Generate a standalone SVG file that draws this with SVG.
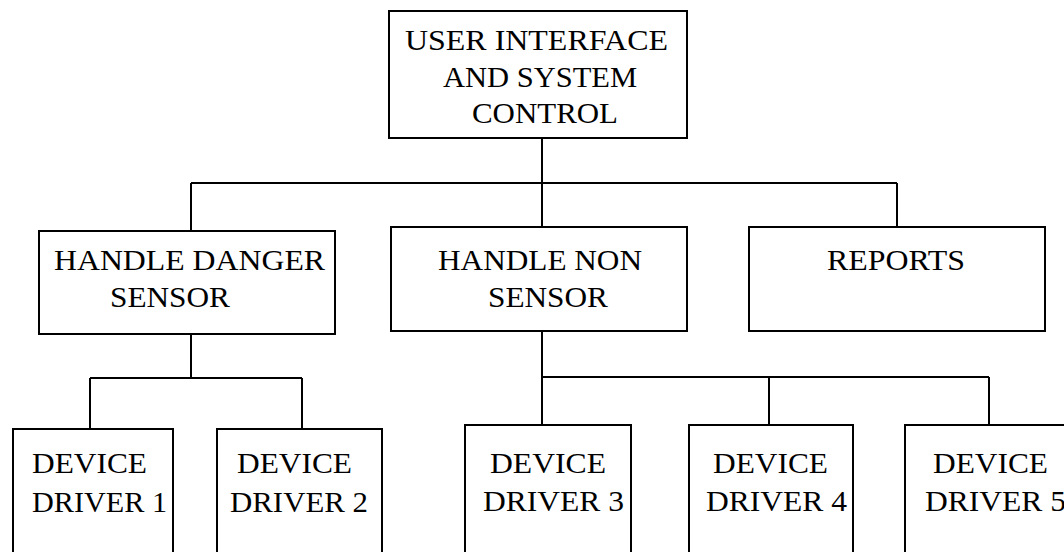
<svg xmlns="http://www.w3.org/2000/svg" width="1064" height="552" viewBox="0 0 1064 552">
  <style>
    .box { fill: #ffffff; stroke: #000000; stroke-width: 2; }
    .wire { fill: none; stroke: #000000; stroke-width: 2; }
    .lbl { font-family: "Liberation Serif", "DejaVu Serif", "Times New Roman", serif; font-size: 30px; fill: #000000; }
  </style>
  <rect width="1064" height="552" fill="#ffffff"/>

  <!-- connectors -->
  <g id="connectors">
    <path class="wire" d="M542 138 V183 M191 183 H897 M191 183 V231 M542 183 V227 M897 183 V227"/>
    <path class="wire" d="M191 334 V378 M90 378 H302 M90 378 V429 M302 378 V429"/>
    <path class="wire" d="M542 331 V425 M542 377 H989 M769 377 V425 M989 377 V425"/>
  </g>

  <g id="user-interface">
    <rect class="box" x="389" y="11" width="298" height="127"/>
    <text class="lbl" x="405" y="50" textLength="263" lengthAdjust="spacingAndGlyphs">USER INTERFACE</text>
    <text class="lbl" x="443" y="87" textLength="194" lengthAdjust="spacingAndGlyphs">AND SYSTEM</text>
    <text class="lbl" x="472" y="123" textLength="146" lengthAdjust="spacingAndGlyphs">CONTROL</text>
  </g>

  <g id="handle-danger-sensor">
    <rect class="box" x="39" y="231" width="296" height="103"/>
    <text class="lbl" x="54" y="270" textLength="271" lengthAdjust="spacingAndGlyphs">HANDLE DANGER</text>
    <text class="lbl" x="110" y="307" textLength="120" lengthAdjust="spacingAndGlyphs">SENSOR</text>
  </g>

  <g id="handle-non-sensor">
    <rect class="box" x="391" y="227" width="296" height="104"/>
    <text class="lbl" x="438" y="270" textLength="204" lengthAdjust="spacingAndGlyphs">HANDLE NON</text>
    <text class="lbl" x="488" y="307" textLength="120" lengthAdjust="spacingAndGlyphs">SENSOR</text>
  </g>

  <g id="reports">
    <rect class="box" x="749" y="227" width="296" height="104"/>
    <text class="lbl" x="827" y="270" textLength="138" lengthAdjust="spacingAndGlyphs">REPORTS</text>
  </g>

  <g id="device-driver-1">
    <rect class="box" x="13" y="429" width="160" height="140"/>
    <text class="lbl" x="32" y="473" textLength="115" lengthAdjust="spacingAndGlyphs">DEVICE</text>
    <text class="lbl" x="32" y="512" textLength="135" lengthAdjust="spacingAndGlyphs">DRIVER 1</text>
  </g>

  <g id="device-driver-2">
    <rect class="box" x="217" y="429" width="165" height="140"/>
    <text class="lbl" x="237" y="473" textLength="115" lengthAdjust="spacingAndGlyphs">DEVICE</text>
    <text class="lbl" x="230" y="512" textLength="138" lengthAdjust="spacingAndGlyphs">DRIVER 2</text>
  </g>

  <g id="device-driver-3">
    <rect class="box" x="465" y="425" width="166" height="140"/>
    <text class="lbl" x="490" y="473" textLength="116" lengthAdjust="spacingAndGlyphs">DEVICE</text>
    <text class="lbl" x="483" y="511" textLength="141" lengthAdjust="spacingAndGlyphs">DRIVER 3</text>
  </g>

  <g id="device-driver-4">
    <rect class="box" x="689" y="425" width="164" height="140"/>
    <text class="lbl" x="713" y="473" textLength="115" lengthAdjust="spacingAndGlyphs">DEVICE</text>
    <text class="lbl" x="706" y="511" textLength="141" lengthAdjust="spacingAndGlyphs">DRIVER 4</text>
  </g>

  <g id="device-driver-5">
    <rect class="box" x="905" y="425" width="170" height="140"/>
    <text class="lbl" x="933" y="473" textLength="115" lengthAdjust="spacingAndGlyphs">DEVICE</text>
    <text class="lbl" x="925" y="511" textLength="141" lengthAdjust="spacingAndGlyphs">DRIVER 5</text>
  </g>
</svg>
